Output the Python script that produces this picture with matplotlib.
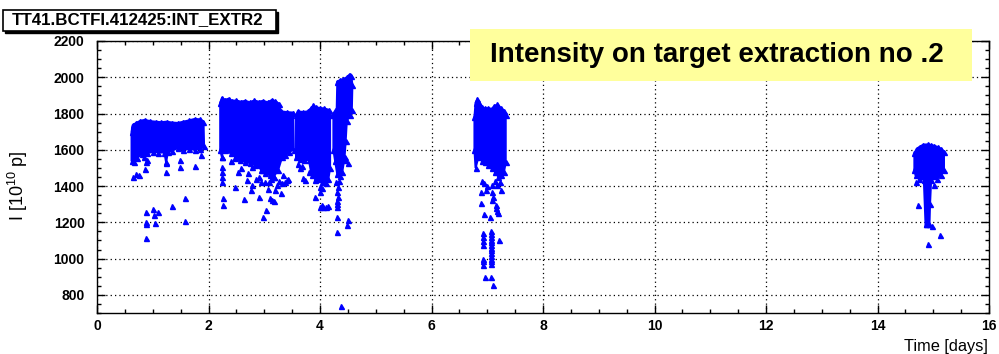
import matplotlib
matplotlib.use("Agg")
import matplotlib.pyplot as plt
from matplotlib.patches import Rectangle, Polygon

plt.rcParams['font.family'] = ['Liberation Sans', 'DejaVu Sans']
plt.rcParams['mathtext.default'] = 'regular'

BLUE = '#0000ff'

# dense blocks of readings, outlined as polygons (time in days, intensity in 1e10 p)
block1_t = [0.62, 0.64, 0.70, 0.78, 0.86, 0.95, 1.05, 1.15, 1.25, 1.35, 1.45, 1.55, 1.65, 1.75, 1.85, 1.91,
            1.92, 1.85, 1.75, 1.65, 1.55, 1.45, 1.35, 1.27, 1.24, 1.21, 1.10, 1.00, 0.90, 0.85, 0.80, 0.72, 0.66, 0.62]
block1_i = [1700, 1735, 1748, 1760, 1765, 1758, 1755, 1752, 1755, 1750, 1748, 1755, 1762, 1770, 1768, 1755,
            1620, 1605, 1600, 1605, 1600, 1610, 1595, 1590, 1530, 1585, 1585, 1590, 1580, 1560, 1575, 1555, 1530, 1540]

block2_t = [2.21, 2.24, 2.30, 2.36, 2.42, 2.50, 2.58, 2.66, 2.74, 2.82, 2.90, 2.98, 3.06, 3.14, 3.20, 3.26,
            3.30, 3.40, 3.52, 3.53, 3.45, 3.38, 3.32, 3.25, 3.17, 3.10, 3.02, 2.95, 2.84, 2.75, 2.66,
            2.56, 2.48, 2.40, 2.30, 2.26, 2.24, 2.21]
block2_i = [1860, 1885, 1875, 1882, 1870, 1872, 1865, 1870, 1862, 1872, 1865, 1870, 1862, 1875, 1868, 1855,
            1812, 1808, 1805, 1600, 1590, 1570, 1560, 1490, 1452, 1460, 1471, 1490, 1517, 1525, 1535,
            1545, 1562, 1580, 1599, 1610, 1560, 1600]

block3_t = [3.57, 3.60, 3.70, 3.78, 3.84, 3.88, 3.92, 4.00, 4.08, 4.16, 4.18,
            4.18, 4.15, 4.10, 4.05, 3.98, 3.92, 3.85, 3.80, 3.72, 3.64, 3.57]
block3_i = [1790, 1812, 1808, 1812, 1830, 1845, 1835, 1830, 1828, 1820, 1790,
            1500, 1440, 1417, 1430, 1440, 1452, 1460, 1544, 1544, 1550, 1560]

block4_t = [4.24, 4.30, 4.31, 4.36, 4.42, 4.48, 4.53, 4.56, 4.58, 4.57, 4.54,
            4.48, 4.46, 4.44, 4.40, 4.35, 4.31, 4.27, 4.24]
block4_i = [1800, 1830, 1975, 1985, 1990, 2000, 2015, 2005, 1960, 1820, 1790,
            1760, 1650, 1560, 1480, 1455, 1465, 1540, 1600]

block5_t = [6.77, 6.79, 6.82, 6.86, 6.90, 6.96, 7.02, 7.08, 7.12, 7.18, 7.24, 7.30, 7.33,
            7.33, 7.30, 7.25, 7.20, 7.14, 7.08, 7.02, 6.96, 6.90, 6.84, 6.79, 6.77]
block5_i = [1780, 1860, 1878, 1860, 1835, 1828, 1830, 1825, 1840, 1850, 1830, 1815, 1790,
            1530, 1480, 1460, 1450, 1480, 1500, 1517, 1530, 1540, 1560, 1500, 1600]

block6_t = [14.66, 14.70, 14.76, 14.82, 14.90, 14.96, 15.02, 15.08, 15.14, 15.19, 15.19, 15.14,
            15.06, 14.96, 14.94, 14.93, 14.86, 14.83, 14.74, 14.68, 14.66]
block6_i = [1580, 1605, 1618, 1628, 1630, 1626, 1622, 1615, 1605, 1590, 1490, 1460,
            1440, 1435, 1300, 1190, 1190, 1435, 1440, 1460, 1490]

# isolated readings below the dense blocks
single_t = [0.65, 0.70, 0.76, 0.86, 0.89, 0.87, 1.23, 1.24, 1.48, 1.48, 1.76, 1.87, 1.58, 1.34, 1.10, 1.01,
            0.87, 1.03, 0.87, 0.87, 1.04, 1.57, 0.87,
            2.24, 2.24, 2.24, 2.24, 2.25, 2.26, 2.26, 2.48, 2.48, 2.64, 2.69, 2.76, 2.78, 2.78, 2.90, 2.90,
            2.96, 2.97, 3.03, 3.02, 3.06, 3.11, 3.14, 3.17, 3.17, 3.20, 3.23, 3.30, 3.32, 3.38, 3.41, 3.43,
            2.58, 2.70, 2.85, 2.95, 3.08, 3.12, 3.26, 3.34, 2.40, 2.52,
            3.64, 3.67, 3.70, 3.73, 3.91, 3.91, 4.00, 4.00, 4.03, 4.00, 4.03, 4.06, 4.11, 4.14, 4.03, 3.80, 3.60,
            4.33, 4.31, 4.31, 4.31, 4.31, 4.32, 4.30, 4.51, 4.48, 4.30, 4.45, 4.51, 4.43, 4.42, 4.38, 4.28, 4.34,
            6.94, 6.88, 6.88, 6.94, 7.04, 7.09, 7.11, 7.15, 7.15, 7.17, 7.17, 7.09, 7.24, 7.20, 7.09,
            6.93, 6.93, 6.93, 6.93, 6.93, 6.93, 6.93, 6.95, 7.06, 7.11, 7.21,
            7.06, 7.06, 7.06, 7.06, 7.06, 7.06, 7.06, 7.06, 7.06, 7.06, 7.06, 7.06, 7.06,
            7.00, 7.13, 6.98, 7.22, 6.90,
            14.72, 14.98, 15.12, 14.90, 14.69, 15.01, 14.86]
single_i = [1452, 1465, 1462, 1493, 1545, 1535, 1480, 1525, 1504, 1541, 1511, 1572, 1333, 1291, 1258, 1274,
            1256, 1241, 1204, 1190, 1197, 1207, 1113,
            1560, 1507, 1480, 1452, 1425, 1333, 1297, 1397, 1554, 1327, 1434, 1379, 1407, 1507, 1342, 1452,
            1489, 1232, 1269, 1425, 1383, 1333, 1324, 1315, 1452, 1379, 1407, 1361, 1416, 1425, 1434, 1440,
            1500, 1470, 1440, 1420, 1420, 1440, 1430, 1460, 1540, 1480,
            1499, 1510, 1443, 1434, 1434, 1342, 1370, 1397, 1388, 1287, 1297, 1287, 1287, 1291, 1425, 1480, 1520,
            1342, 1315, 1300, 1287, 1370, 1395, 1232, 1214, 1186, 1145, 1545, 1527, 1560, 1649, 740, 1420, 1430,
            1416, 1370, 1306, 1245, 1232, 1370, 1342, 1297, 1280, 1260, 1407, 1407, 1379, 1251, 1324,
            1141, 1120, 1095, 1076, 1000, 985, 966, 901, 901, 856, 1104,
            1150, 1135, 1120, 1105, 1090, 1075, 1060, 1045, 1030, 1015, 1000, 985, 970,
            1400, 1430, 1380, 1420, 1430,
            1297, 1181, 1131, 1081, 1425, 1407, 1190]

blocks = [(block1_t, block1_i), (block2_t, block2_i), (block3_t, block3_i),
          (block4_t, block4_i), (block5_t, block5_i), (block6_t, block6_i)]

fig = plt.figure(figsize=(9.99, 3.54), dpi=100)
ax = fig.add_axes([0.0971, 0.1158, 0.893, 0.7684])

for bt, bi in blocks:
    ax.add_patch(Polygon(list(zip(bt, bi)), closed=True, facecolor=BLUE, edgecolor=BLUE,
                         linewidth=1.5, zorder=3))
    ax.plot(bt, bi, linestyle='none', marker='^', markersize=3.6, color=BLUE, zorder=3)

ax.plot(single_t, single_i, linestyle='none', marker='^', markersize=3.6, color=BLUE, zorder=3)

ax.set_xlim(0, 16)
ax.set_ylim(700, 2200)
ax.set_xticks(range(0, 17, 2))
ax.set_xticks([v / 2 for v in range(0, 33)], minor=True)
ax.set_yticks(range(800, 2201, 200))
ax.set_yticks(range(700, 2201, 50), minor=True)
ax.grid(True, which='major', color='black', linestyle=(0, (1, 2.5)), linewidth=0.9)
ax.set_axisbelow(True)
ax.tick_params(which='both', direction='in', top=True, right=True, width=1, colors='black')
ax.tick_params(which='major', length=6)
ax.tick_params(which='minor', length=3)
ax.tick_params(axis='y', which='both', pad=9)
ax.tick_params(axis='x', which='both', pad=4)
for lab in ax.get_xticklabels() + ax.get_yticklabels():
    lab.set_fontweight('bold')
    lab.set_fontsize(10)
for s in ax.spines.values():
    s.set_linewidth(1)

fig.text(18 / 999, 1 - 186 / 354, 'I [10$^{10}$ p]', rotation=90, ha='center', va='center', fontsize=13)
fig.text(988 / 999, 1 - 346 / 354, 'Time [days]', ha='right', va='center', fontsize=11.8)

# title box with a shadow, like ROOT
fig.add_artist(Rectangle((5 / 999, 1 - 32.5 / 354), 273 / 999, 21 / 354, transform=fig.transFigure,
                         facecolor='black', edgecolor='black', zorder=9))
fig.add_artist(Rectangle((3 / 999, 1 - 30.5 / 354), 273 / 999, 21 / 354, transform=fig.transFigure,
                         facecolor='white', edgecolor='black', linewidth=1.2, zorder=10))
fig.text(138 / 999, 1 - 20 / 354, 'TT41.BCTFI.412425:INT_EXTR2', ha='center', va='center',
         fontsize=12.2, fontweight='bold', zorder=11)

# yellow note box
fig.add_artist(Rectangle((470 / 999, 1 - 81 / 354), 502 / 999, 52 / 354, transform=fig.transFigure,
                         facecolor='#ffff9c', edgecolor='none', zorder=10))
fig.text(717 / 999, 1 - 55 / 354, 'Intensity on target extraction no .2', ha='center', va='center',
         fontsize=20, fontweight='bold', zorder=11)

fig.savefig('out.png', dpi=100)
